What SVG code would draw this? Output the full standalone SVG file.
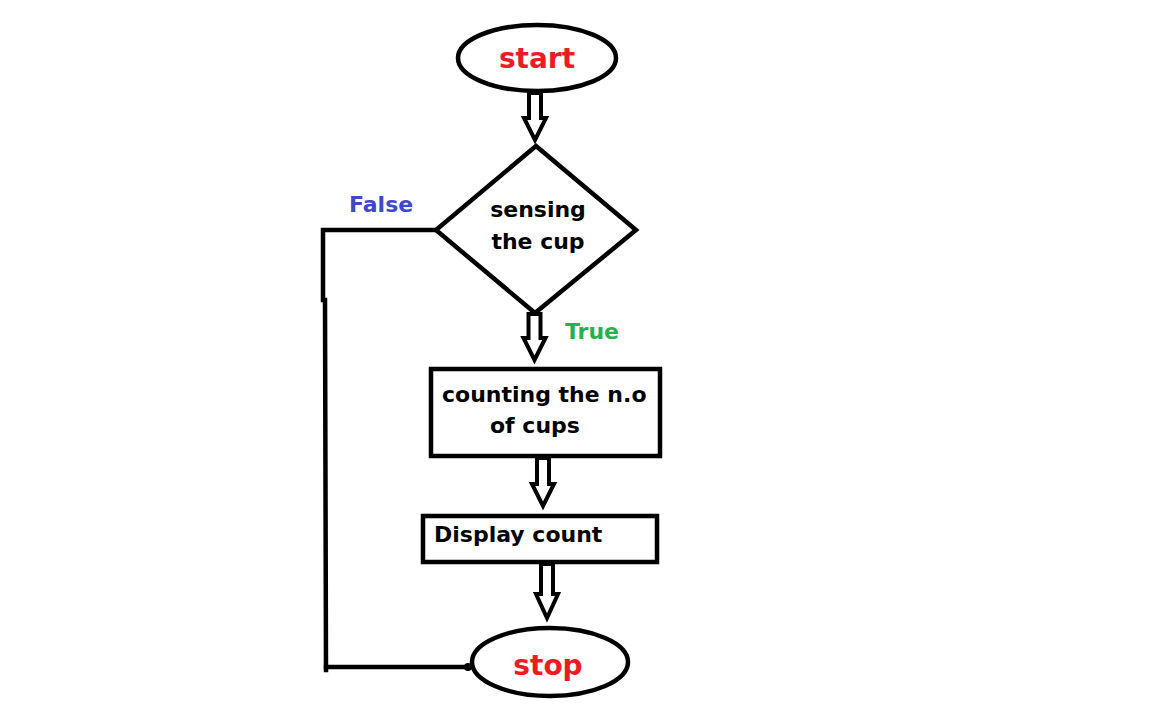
<svg xmlns="http://www.w3.org/2000/svg" width="1152" height="713" viewBox="0 0 1152 713">
<style>
.shape{fill:#fff;stroke:#000;stroke-width:4.5}
.arrow{fill:#fff;stroke:#000;stroke-width:4;stroke-linejoin:miter}
.line{fill:none;stroke:#000;stroke-width:4.5;stroke-linecap:square}
text{font-family:"DejaVu Sans","Liberation Sans",sans-serif;font-weight:bold}
.t{font-size:22px;fill:#000}
.term{font-size:28px;fill:#ed1c24;text-anchor:middle}
</style>
<rect width="1152" height="713" fill="#fff"/>
<g id="connectors">
<polygon class="arrow" points="529,93 541,93 541,118 546,118 535,140 524,118 529,118"/>
<polygon class="arrow" points="528.5,314 540.5,314 540.5,338 545.5,338 534.5,360 523.5,338 528.5,338"/>
<polygon class="arrow" points="537,458 549,458 549,484 554,484 543,506 532,484 537,484"/>
<polygon class="arrow" points="541,564 553,564 553,594 558,594 547,618 536,594 541,594"/>
<polyline class="line" points="436,230 323,230 323,300 325,300 326,670"/>
<line class="line" x1="326" y1="667" x2="468" y2="667"/>
<circle cx="468" cy="667" r="4" fill="#000"/>
<text x="349" y="212" class="t" style="fill:#3f48cc">False</text>
<text x="565" y="339" class="t" style="fill:#22b14c">True</text>
</g>
<g id="start">
<ellipse class="shape" cx="537" cy="58" rx="79" ry="33"/>
<text x="537" y="68" class="term">start</text>
</g>
<g id="decision">
<polygon class="shape" points="536,146 636,230 535,313 436,230"/>
<text x="538" y="217" class="t" text-anchor="middle">sensing</text>
<text x="538" y="249" class="t" text-anchor="middle">the cup</text>
</g>
<g id="counting">
<rect class="shape" x="431" y="369" width="229" height="87"/>
<text x="442" y="402" class="t">counting the n.o</text>
<text x="490" y="433" class="t">of cups</text>
</g>
<g id="display">
<rect class="shape" x="423" y="516" width="234" height="46"/>
<text x="434" y="542" class="t">Display count</text>
</g>
<g id="stop">
<ellipse class="shape" cx="550" cy="662" rx="78" ry="34"/>
<text x="548" y="675" class="term">stop</text>
</g>
</svg>
